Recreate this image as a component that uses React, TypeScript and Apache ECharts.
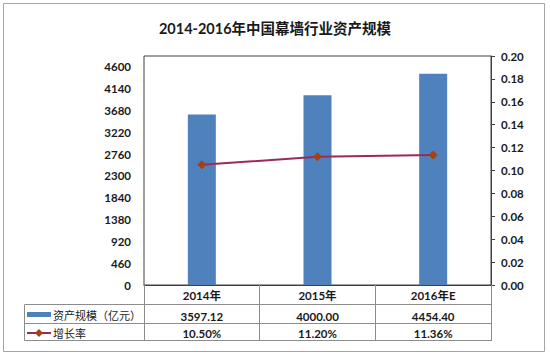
import React, { useEffect, useRef } from "react";
import * as echarts from "echarts";

const titleText = "2014-2016年中国幕墙行业资产规模";
const years = ["2014年", "2015年", "2016年E"];
const assetValues = [3597.12, 4000.0, 4454.4];
const growthRates = [0.105, 0.112, 0.1136];
const seriesNames = ["资产规模（亿元）", "增长率"];
const leftAxisMax = 4830;
const leftAxisInterval = 460;
const rightAxisMax = 0.2;
const rightAxisInterval = 0.02;

const FONT = "Lato, 'Noto Sans CJK SC', sans-serif";
const CJK = "'Noto Sans CJK SC', sans-serif";
const BAR_COLOR = "#4F81BD";
const LINE_COLOR = "#9A2A5C";
const MARK_COLOR = "#A8400F";
const TABLE_LINE = "#8c8c8c";

// layout
const GL = 144;
const GT = 56;
const GR = 491;
const GB = 285;
const TABLE_LEFT = 24.5;
const ROW1 = 304.5;
const ROW2 = 323.5;
const ROW3 = 340.5;

export default function App() {
  const ref = useRef<HTMLDivElement>(null);
  useEffect(() => {
    if (!ref.current) return;
    const chart = echarts.init(ref.current, null, { renderer: "svg" });
    const labelStyle = {
      fontFamily: FONT,
      fontWeight: "bold" as const,
      fontSize: 11.5,
      color: "#1a1a1a",
    };
    const hLine = (y: number) => ({
      type: "line",
      shape: { x1: TABLE_LEFT, y1: y, x2: GR + 0.5, y2: y },
      style: { stroke: TABLE_LINE, lineWidth: 1 },
      silent: true,
    });
    chart.setOption({
      animation: false,
      backgroundColor: "#ffffff",
      title: {
        text: titleText,
        left: 270,
        textAlign: "center",
        top: 16,
        textStyle: {
          fontFamily: FONT,
          fontWeight: "bold",
          fontSize: 14.5,
          color: "#1a1a1a",
        },
      },
      grid: {
        left: GL,
        top: GT,
        right: 550 - GR,
        bottom: 359 - GB,
        show: true,
        borderColor: "#404040",
        borderWidth: 1,
        backgroundColor: "transparent",
        containLabel: false,
      },
      xAxis: [
        {
          type: "category",
          data: years,
          position: "bottom",
          axisLine: { show: true, lineStyle: { color: "#404040", width: 1 } },
          axisTick: {
            show: true,
            length: 56,
            inside: false,
            lineStyle: { color: TABLE_LINE, width: 1 },
          },
          axisLabel: { ...labelStyle, margin: 5 },
          splitLine: { show: false },
        },
        {
          type: "category",
          data: assetValues.map((v) => v.toFixed(2)),
          position: "bottom",
          offset: 21,
          axisLine: { show: false },
          axisTick: { show: false },
          axisLabel: { ...labelStyle, margin: 5 },
          splitLine: { show: false },
        },
        {
          type: "category",
          data: growthRates.map((v) => (v * 100).toFixed(2) + "%"),
          position: "bottom",
          offset: 38,
          axisLine: { show: false },
          axisTick: { show: false },
          axisLabel: { ...labelStyle, margin: 5 },
          splitLine: { show: false },
        },
      ],
      yAxis: [
        {
          type: "value",
          min: 0,
          max: leftAxisMax,
          interval: leftAxisInterval,
          position: "left",
          axisLine: { show: false },
          axisTick: { show: false },
          splitLine: { show: false },
          axisLabel: {
            ...labelStyle,
            margin: 13,
            showMaxLabel: false,
            formatter: (v: number) => String(v),
          },
        },
        {
          type: "value",
          min: 0,
          max: rightAxisMax,
          interval: rightAxisInterval,
          position: "right",
          axisLine: { show: true, lineStyle: { color: "#404040", width: 1 } },
          axisTick: {
            show: true,
            inside: false,
            length: 4,
            lineStyle: { color: "#404040" },
          },
          splitLine: { show: false },
          axisLabel: {
            ...labelStyle,
            margin: 10,
            formatter: (v: number) => v.toFixed(2),
          },
        },
      ],
      series: [
        {
          name: seriesNames[0],
          type: "bar",
          xAxisIndex: 0,
          yAxisIndex: 0,
          data: assetValues,
          barWidth: 28,
          itemStyle: { color: BAR_COLOR },
        },
        {
          name: seriesNames[1],
          type: "line",
          xAxisIndex: 0,
          yAxisIndex: 1,
          data: growthRates,
          symbol: "diamond",
          symbolSize: 9,
          itemStyle: { color: MARK_COLOR },
          lineStyle: { color: LINE_COLOR, width: 2 },
        },
      ],
      graphic: [
        {
          type: "rect",
          shape: { x: 3.5, y: 3.5, width: 541, height: 348 },
          style: { fill: "none", stroke: "#a6a6a6", lineWidth: 1 },
          silent: true,
          z: -1,
        },
        hLine(ROW1),
        hLine(ROW2),
        hLine(ROW3),
        {
          type: "line",
          shape: { x1: TABLE_LEFT, y1: ROW1, x2: TABLE_LEFT, y2: ROW3 },
          style: { stroke: TABLE_LINE, lineWidth: 1 },
          silent: true,
        },
        {
          type: "rect",
          shape: { x: 27, y: 312, width: 24, height: 5 },
          style: { fill: BAR_COLOR },
          silent: true,
        },
        {
          type: "text",
          x: 53,
          y: 315,
          style: {
            text: seriesNames[0],
            font: `11px ${CJK}`,
            fill: "#1a1a1a",
            verticalAlign: "middle",
          },
          silent: true,
        },
        {
          type: "line",
          shape: { x1: 27, y1: 333, x2: 51, y2: 333 },
          style: { stroke: LINE_COLOR, lineWidth: 2 },
          silent: true,
        },
        {
          type: "polygon",
          shape: {
            points: [
              [39, 329],
              [43, 333],
              [39, 337],
              [35, 333],
            ],
          },
          style: { fill: MARK_COLOR },
          silent: true,
        },
        {
          type: "text",
          x: 53,
          y: 333,
          style: {
            text: seriesNames[1],
            font: `11px ${CJK}`,
            fill: "#1a1a1a",
            verticalAlign: "middle",
          },
          silent: true,
        },
      ],
    });
    return () => chart.dispose();
  }, []);
  return (
    <div
      ref={ref}
      style={{ position: "absolute", left: 0, top: 0, width: 550, height: 359 }}
    />
  );
}
